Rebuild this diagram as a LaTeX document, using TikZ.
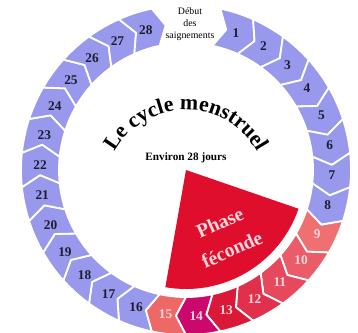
\documentclass[tikz,border=0pt]{standalone}
\usepackage{fontspec}
\setmainfont{Liberation Serif}
\usetikzlibrary{decorations.text}

\definecolor{dayblue}{RGB}{152,152,236}
\definecolor{daynine}{RGB}{238,112,112}
\definecolor{dayten}{RGB}{234,92,104}
\definecolor{dayeleven}{RGB}{230,72,92}
\definecolor{daytwelve}{RGB}{224,48,76}
\definecolor{daythirteen}{RGB}{218,24,56}
\definecolor{dayfourteen}{RGB}{204,8,108}
\definecolor{dayfifteen}{RGB}{238,104,104}
\definecolor{phasered}{RGB}{222,14,44}
\definecolor{inkdark}{RGB}{30,30,50}
\definecolor{inkpale}{RGB}{255,214,220}

\tikzset{
  tile/.style={draw=white, line width=1.3pt, line join=round},
  daynum/.style={font=\fontsize{9.5}{9.5}\selectfont\bfseries, inner sep=0pt},
}

\begin{document}
\begin{tikzpicture}[x=0.025cm, y=0.025cm]
\useasboundingbox (-186,-162) rectangle (172,170);

% fertile window
\fill[phasered] (0,0) -- (-19:119) arc[start angle=-19, end angle=-100, radius=119] -- cycle;

% the 28 days, clockwise from the top
\foreach \k/\c/\t in {1/dayblue/inkdark, 2/dayblue/inkdark, 3/dayblue/inkdark,
    4/dayblue/inkdark, 5/dayblue/inkdark, 6/dayblue/inkdark, 7/dayblue/inkdark,
    8/dayblue/inkdark, 9/daynine/inkpale, 10/dayten/inkpale, 11/dayeleven/inkpale,
    12/daytwelve/inkpale, 13/daythirteen/inkpale, 14/dayfourteen/inkpale,
    15/dayfifteen/inkpale, 16/dayblue/inkdark, 17/dayblue/inkdark, 18/dayblue/inkdark,
    19/dayblue/inkdark, 20/dayblue/inkdark, 21/dayblue/inkdark, 22/dayblue/inkdark,
    23/dayblue/inkdark, 24/dayblue/inkdark, 25/dayblue/inkdark, 26/dayblue/inkdark,
    27/dayblue/inkdark, 28/dayblue/inkdark} {
  \pgfmathsetmacro{\a}{70-12*(\k-1)}
  \filldraw[tile, fill=\c] (\a+8:165) -- (\a+4:146) -- (\a+8:127)
    arc[start angle=\a+8, end angle=\a-4, radius=127]
    -- (\a-8:146) -- (\a-4:165)
    arc[start angle=\a-4, end angle=\a+8, radius=165] -- cycle;
  \node[daynum, text=\t] (d\k) at (\a:146) {\k};
}

% titles
\path[decorate, decoration={text along path, text align=center,
    text={|\fontsize{15.5}{15.5}\selectfont\bfseries|Le cycle menstruel}}]
  ([shift={(0,-22)}]155:82) arc[start angle=155, end angle=25, radius=82];
\node[font=\fontsize{8}{8}\selectfont\bfseries] (span) at (0,12) {Environ 28 jours};
\node[font=\fontsize{7}{8.5}\selectfont, align=center] (start) at (4,146) {Début\\des\\saignements};
\node[font=\fontsize{14}{21}\selectfont\bfseries, text=inkpale, align=center, rotate=24]
  (fertile) at (40,-66) {Phase\\féconde};
\end{tikzpicture}
\end{document}
